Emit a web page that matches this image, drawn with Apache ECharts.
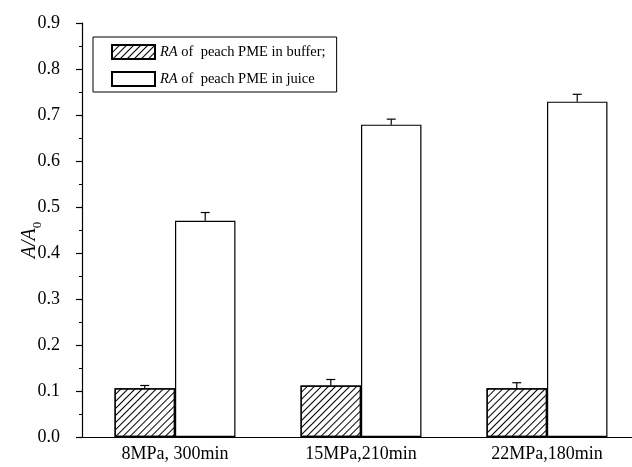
<!DOCTYPE html>
<html><head><meta charset="utf-8">
<script src="https://cdn.jsdelivr.net/npm/echarts@6/dist/echarts.min.js"></script>
<style>html,body{margin:0;padding:0;background:#fff}#c{width:632px;height:467px}</style>
</head><body><div id="c"></div>
<script>
const categories = ['8MPa, 300min', '15MPa,210min', '22MPa,180min'];
const bufferValues = [0.106, 0.112, 0.106];
const bufferErrors = [0.006, 0.013, 0.012];
const juiceValues = [0.470, 0.679, 0.729];
const juiceErrors = [0.018, 0.012, 0.016];
const yMin = 0, yMax = 0.9, yStep = 0.1;

const FONT = 'Liberation Serif';
const chart = echarts.init(document.getElementById('c'), null, {renderer: 'canvas'});

function errData(vals, errs) { return vals.map((v, i) => [i, v, errs[i]]); }
function errRender(side) {
  return function (params, api) {
    const i = api.value(0), v = api.value(1), e = api.value(2);
    const bw = api.size([1, 0])[0] * 0.65 / 2;
    const p0 = api.coord([i, v]);
    const p1 = api.coord([i, v + e]);
    const x = p0[0] + side * bw / 2;
    const cap = 4.5;
    return {
      type: 'group',
      children: [
        {type: 'line', shape: {x1: x, y1: p0[1], x2: x, y2: p1[1]}, style: {stroke: '#000', lineWidth: 1.2}},
        {type: 'line', shape: {x1: x - cap, y1: p1[1], x2: x + cap, y2: p1[1]}, style: {stroke: '#000', lineWidth: 1.2}}
      ]
    };
  };
}

const richLegend = {
  i: {fontFamily: FONT, fontStyle: 'italic', fontSize: 14.5, color: '#000'},
  n: {fontFamily: FONT, fontSize: 14.5, color: '#000'}
};

chart.setOption({
  animation: false,
  backgroundColor: '#fff',
  grid: {left: 82, right: -8, top: 23, bottom: 30, containLabel: false, outerBoundsMode: 'none'},
  legend: {
    data: ['buffer', 'juice'],
    orient: 'vertical',
    left: 93, top: 37,
    borderColor: '#000', borderWidth: 1,
    padding: [7, 11, 5, 18],
    itemWidth: 43, itemHeight: 14, itemGap: 11,
    icon: 'rect',
    formatter: function (name) {
      return name === 'buffer' ? '{i|RA}{n| of  peach PME in buffer;}' : '{i|RA}{n| of  peach PME in juice}';
    },
    textStyle: {rich: richLegend, padding: [0, 0, 0, 0]}
  },
  xAxis: [{
    type: 'category', data: categories, gridIndex: 0, position: 'bottom',
    axisLine: {lineStyle: {color: '#000', width: 1.2}},
    axisTick: {alignWithLabel: true, length: 8, lineStyle: {color: '#000', width: 1.2}},
    axisLabel: {fontFamily: FONT, fontSize: 18, color: '#000', margin: 8}
  }, {
    type: 'category', data: categories, gridIndex: 0, position: 'bottom',
    axisLine: {show: false},
    axisTick: {length: 4, lineStyle: {color: '#000', width: 1.2}},
    axisLabel: {show: false}
  }],
  yAxis: {
    type: 'value', min: yMin, max: yMax, interval: yStep,
    name: '{a|A/A}{s|0}', nameLocation: 'middle', nameGap: 38, nameRotate: 90, nameMoveOverlap: false,
    nameTextStyle: {
      padding: [0, 20, 0, 0],
      rich: {
        a: {fontFamily: FONT, fontStyle: 'italic', fontSize: 20, color: '#000', lineHeight: 28},
        s: {fontFamily: FONT, fontSize: 13, color: '#000', lineHeight: 13, verticalAlign: 'bottom'}
      }
    },
    axisLine: {show: true, lineStyle: {color: '#000', width: 1.2}},
    axisTick: {show: true, length: 6, lineStyle: {color: '#000', width: 1.2}},
    minorTick: {show: true, splitNumber: 2, length: 3, lineStyle: {color: '#000', width: 1}},
    splitLine: {show: false},
    axisLabel: {fontFamily: FONT, fontSize: 18, color: '#000', margin: 22, formatter: v => v.toFixed(1)}
  },
  series: [{
    name: 'buffer', type: 'bar', data: bufferValues, xAxisIndex: 0,
    barCategoryGap: '35%', barGap: '0%',
    itemStyle: {
      color: '#fff', borderColor: '#000', borderWidth: 1.2,
      decal: {symbol: 'rect', symbolSize: 1, color: '#000', dashArrayX: [1, 0], dashArrayY: [1, 4], rotation: -Math.PI / 4}
    }
  }, {
    name: 'juice', type: 'bar', data: juiceValues, xAxisIndex: 0,
    barCategoryGap: '35%', barGap: '0%',
    itemStyle: {color: '#fff', borderColor: '#000', borderWidth: 1.2}
  }, {
    name: 'bufferErr', type: 'custom', xAxisIndex: 0, z: 5,
    data: errData(bufferValues, bufferErrors), renderItem: errRender(-1),
    encode: {x: 0, y: 1}
  }, {
    name: 'juiceErr', type: 'custom', xAxisIndex: 0, z: 5,
    data: errData(juiceValues, juiceErrors), renderItem: errRender(1),
    encode: {x: 0, y: 1}
  }]
});
</script></body></html>
